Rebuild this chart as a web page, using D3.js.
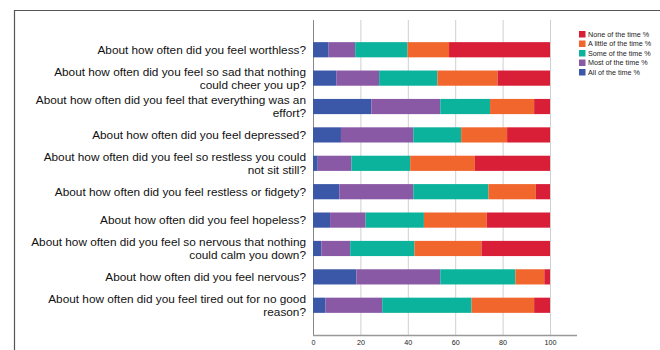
<!DOCTYPE html>
<html>
<head>
<meta charset="utf-8">
<script src="https://cdn.jsdelivr.net/npm/d3@7"></script>
<style>
  body { margin: 0; background: #fff; }
  svg { display: block; font-family: "Liberation Sans", Arial, sans-serif; }
</style>
</head>
<body>
<div id="chart"></div>
<script>
(function () {
  'use strict';

  // question labels (line breaks as in the original)
  var questions = [
    ['About how often did you feel worthless?'],
    ['About how often did you feel so sad that nothing', 'could cheer you up?'],
    ['About how often did you feel that everything was an', 'effort?'],
    ['About how often did you feel depressed?'],
    ['About how often did you feel so restless you could', 'not sit still?'],
    ['About how often did you feel restless or fidgety?'],
    ['About how often did you feel hopeless?'],
    ['About how often did you feel so nervous that nothing', 'could calm you down?'],
    ['About how often did you feel nervous?'],
    ['About how often did you feel tired out for no good', 'reason?']
  ];

  var seriesNames = ['All of the time %', 'Most of the time %', 'Some of the time %', 'A little of the time %', 'None of the time %'];

  var allOfTime    = [6.6, 9.8, 24.6, 11.8, 2.0, 11.1, 7.2, 3.5, 18.3, 5.3];
  var mostOfTime   = [11.2, 18.1, 29.1, 30.5, 14.2, 31.2, 15.0, 12.2, 35.4, 23.9];
  var someOfTime   = [22.1, 24.6, 21.0, 20.2, 24.8, 31.7, 24.6, 27.1, 31.7, 37.7];
  var littleOfTime = [17.5, 25.4, 18.6, 19.4, 27.3, 20.0, 26.5, 28.3, 12.2, 26.4];
  var noneOfTime   = [42.6, 22.1, 6.7, 18.1, 31.7, 6.0, 26.7, 28.9, 2.4, 6.7];

  var xTicks = [0, 20, 40, 60, 80, 100];

  var colors = ['#3b57a7', '#8a59a6', '#0cb39c', '#f0662d', '#d91f37'];

  var rows = questions.map(function (q, i) {
    return {
      id: i,
      label: q,
      s0: allOfTime[i], s1: mostOfTime[i], s2: someOfTime[i],
      s3: littleOfTime[i], s4: noneOfTime[i]
    };
  });
  var keys = ['s0', 's1', 's2', 's3', 's4'];

  var W = 660, H = 350;
  var plot = { left: 313, right: 550, top: 20, bottom: 335 };

  var svg = d3.select('#chart').append('svg')
      .attr('width', W)
      .attr('height', H);

  // outer frame (clipped on right and bottom)
  svg.append('path')
     .attr('d', 'M14.5,' + H + 'V10.5H' + W)
     .attr('fill', 'none')
     .attr('stroke', '#555')
     .attr('stroke-width', 1.2);

  var x = d3.scaleLinear().domain([0, 100]).range([plot.left, plot.right]);
  var y = d3.scaleBand()
      .domain(rows.map(function (d) { return d.id; }))
      .range([plot.top, plot.bottom])
      .paddingInner(0.465)
      .paddingOuter(0.78);

  // gridlines
  svg.append('g')
     .selectAll('line')
     .data(xTicks.slice(1))
     .enter()
     .append('line')
     .attr('x1', function (d) { return x(d) + 0.5; })
     .attr('x2', function (d) { return x(d) + 0.5; })
     .attr('y1', plot.top)
     .attr('y2', plot.bottom)
     .attr('stroke', '#cfcfcf')
     .attr('stroke-width', 1);

  // left axis line
  svg.append('line')
     .attr('x1', plot.left + 0.5).attr('x2', plot.left + 0.5)
     .attr('y1', plot.top).attr('y2', plot.bottom)
     .attr('stroke', '#888');

  var stack = d3.stack().keys(keys);
  var series = stack(rows);

  svg.append('g')
     .selectAll('g')
     .data(series)
     .enter()
     .append('g')
     .attr('fill', function (d, i) { return colors[i]; })
     .selectAll('rect')
     .data(function (d) { return d; })
     .enter()
     .append('rect')
     .attr('x', function (d) { return x(d[0]); })
     .attr('width', function (d) { return x(d[1]) - x(d[0]); })
     .attr('y', function (d) { return y(d.data.id); })
     .attr('height', y.bandwidth());

  // bottom axis
  var xAxis = d3.axisBottom(x).tickValues(xTicks).tickSize(0).tickPadding(5);
  var gx = svg.append('g')
     .attr('transform', 'translate(0,' + plot.bottom + ')')
     .call(xAxis);
  gx.select('.domain')
    .attr('d', 'M' + plot.left + ',0.5H577')
    .attr('stroke', '#999')
    .attr('stroke-width', 1.5);
  gx.selectAll('text')
    .attr('font-size', 7.2)
    .attr('font-family', '"Liberation Sans", Arial, sans-serif')
    .attr('fill', '#222');

  // question labels
  var lab = svg.append('g')
     .selectAll('text')
     .data(rows)
     .enter()
     .append('text')
     .attr('text-anchor', 'end')
     .attr('font-size', 11.8)
     .attr('fill', '#111')
     .attr('transform', function (d) {
       return 'translate(306,' + (y(d.id) + y.bandwidth() / 2) + ')';
     });
  lab.selectAll('tspan')
     .data(function (d) {
       var n = d.label.length;
       return d.label.map(function (t, j) { return { t: t, dy: (j - (n - 1) / 2) * 13 }; });
     })
     .enter()
     .append('tspan')
     .attr('x', 0)
     .attr('y', function (d) { return d.dy; })
     .attr('dy', '0.35em')
     .text(function (d) { return d.t; });

  // legend (reverse order)
  var legend = svg.append('g')
     .selectAll('g')
     .data(seriesNames.map(function (n, i) { return { name: n, color: colors[i] }; }).reverse())
     .enter()
     .append('g')
     .attr('transform', function (d, i) { return 'translate(579,' + (31 + i * 9.5) + ')'; });
  legend.append('rect')
     .attr('width', 6.5)
     .attr('height', 6.5)
     .attr('fill', function (d) { return d.color; });
  legend.append('text')
     .attr('x', 9)
     .attr('y', 3.3)
     .attr('dy', '0.35em')
     .attr('font-size', 7.2)
     .attr('fill', '#222')
     .text(function (d) { return d.name; });
}());
</script>
</body>
</html>
